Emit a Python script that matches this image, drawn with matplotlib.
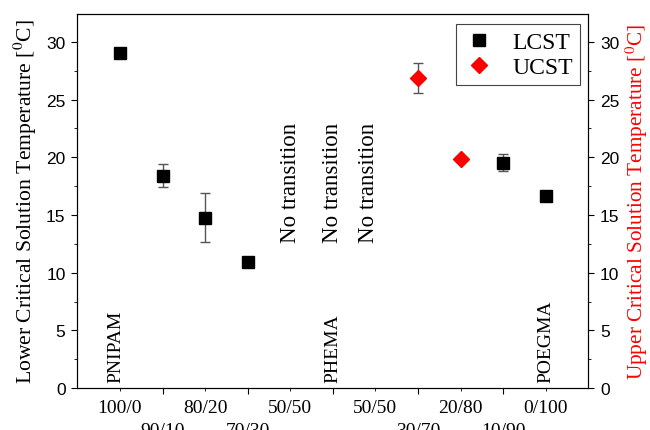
import matplotlib
matplotlib.use('Agg')
import matplotlib.pyplot as plt
from matplotlib.lines import Line2D
from matplotlib.ticker import MultipleLocator

plt.rcParams['mathtext.fontset'] = 'stix'
serif = 'Liberation Serif'
sans = 'Liberation Sans'

# data
lcst_pos = [1, 2, 3, 4, 10, 11]
lcst_val = [29.05, 18.35, 14.75, 10.95, 19.5, 16.65]
lcst_err_lo = [0, 0.95, 2.05, 0, 0.7, 0]
lcst_err_hi = [0, 1.05, 2.15, 0, 0.8, 0]

ucst_pos = [8, 9]
ucst_val = [26.85, 19.85]
ucst_err = [1.3, 0]

upper_pos = [1, 3, 5, 7, 9, 11]
upper_labels = ['100/0', '80/20', '50/50', '50/50', '20/80', '0/100']
lower_pos = [2, 4, 6, 8, 10]
lower_labels = ['90/10', '70/30', '', '30/70', '10/90']

no_trans_pos = [5, 6, 6.85]
polymers = [(0.9, 'PNIPAM'), (6, 'PHEMA'), (11, 'POEGMA')]

fig = plt.figure(figsize=(6.5, 4.31), dpi=100)
ax = fig.add_axes([0.119, 0.097, 0.786, 0.868])

ax.errorbar(lcst_pos, lcst_val, yerr=[lcst_err_lo, lcst_err_hi], fmt='s',
            color='black', ms=8.6, ecolor='#555555', elinewidth=1,
            capsize=3.5, capthick=1, zorder=3)
ax.errorbar(ucst_pos, ucst_val, yerr=ucst_err, fmt='D', color='red',
            ms=8.6, ecolor='#555555', elinewidth=1, capsize=3.5,
            capthick=1, zorder=3)

for p in no_trans_pos:
    ax.text(p, 12.7, 'No transition', rotation=90, ha='center', va='bottom',
            fontsize=16.5, family=serif)
for p, name in polymers:
    ax.text(p, 0.5, name, rotation=90, ha='center', va='bottom',
            fontsize=14, family=serif)

ax.set_xlim(0, 12)
ax.set_ylim(0, 32.4)
ax.yaxis.set_major_locator(MultipleLocator(5))
ax.yaxis.set_minor_locator(MultipleLocator(2.5))

ax.set_xticks(lower_pos, labels=lower_labels)
ax.set_xticks(upper_pos, labels=upper_labels, minor=True)
ax.tick_params(axis='x', which='major', length=4.5, pad=20, labelsize=14)
ax.tick_params(axis='x', which='minor', length=2.5, pad=5, labelsize=14)
for lab in ax.get_xticklabels(which='both'):
    lab.set_family(serif)

ax.tick_params(axis='y', which='major', length=4.5, labelsize=12.5, pad=4)
ax.tick_params(axis='y', which='minor', length=2.5)
for lab in ax.get_yticklabels():
    lab.set_family(sans)

ax.set_ylabel('Lower Critical Solution Temperature [$^{0}$C]', family=serif,
              fontsize=15.6, labelpad=5)

ax2 = ax.twinx()
ax2.set_ylim(ax.get_ylim())
ax2.yaxis.set_major_locator(MultipleLocator(5))
ax2.yaxis.set_minor_locator(MultipleLocator(2.5))
ax2.tick_params(axis='y', which='major', length=4.5, labelsize=12.5, pad=4)
ax2.tick_params(axis='y', which='minor', length=2.5)
for lab in ax2.get_yticklabels():
    lab.set_family(sans)
ax2.set_ylabel('Upper Critical Solution Temperature [$^{0}$C]', family=serif,
               fontsize=15.3, color='red', labelpad=3)

handles = [Line2D([], [], ls='none', marker='s', color='black', ms=8.6),
           Line2D([], [], ls='none', marker='D', color='red', ms=8.6)]
leg = ax.legend(handles, ['LCST', 'UCST'], loc='upper right',
                bbox_to_anchor=(0.984, 0.973), borderaxespad=0,
                prop={'family': serif, 'size': 17}, fancybox=False,
                edgecolor='#444444', framealpha=1, handletextpad=0.7,
                borderpad=0.3, labelspacing=0.15, handlelength=1.4)
leg.get_frame().set_linewidth(0.8)

fig.savefig('out.png', dpi=100)
